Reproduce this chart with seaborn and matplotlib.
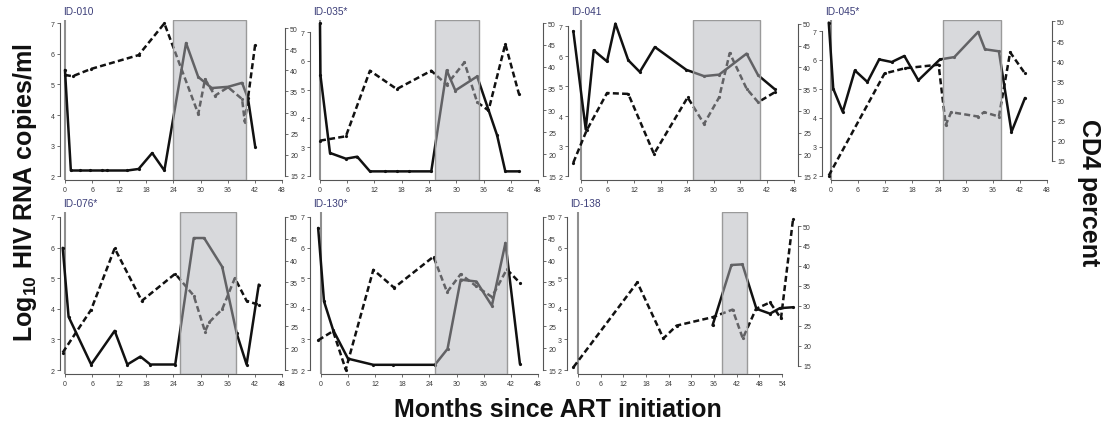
import numpy as np
import pandas as pd
import matplotlib
matplotlib.use("Agg")
import matplotlib.pyplot as plt
import seaborn as sns

sns.set_theme(style="ticks")
plt.rcParams['font.family'] = ['Liberation Sans', 'DejaVu Sans']
plt.rcParams['mathtext.fontset'] = 'custom'
plt.rcParams['mathtext.rm'] = 'Liberation Sans:bold'
plt.rcParams['mathtext.bf'] = 'Liberation Sans:bold'

# ---------------- data ----------------
ids = ["ID-010", "ID-035*", "ID-041", "ID-045*", "ID-076*", "ID-130*", "ID-138"]

rna_m_010 = [0, 1.3, 3.4, 5.6, 8.3, 9.2, 13.8, 16.3, 19.3, 22.0, 26.8, 29.5, 32.5, 36.1, 39.2, 40.5, 42.1]
rna_010 = [5.47, 2.19, 2.19, 2.19, 2.19, 2.19, 2.19, 2.24, 2.76, 2.19, 6.35, 5.24, 4.88, 4.92, 5.05, 4.55, 2.97]
cd4_m_010 = [0, 1.7, 5.7, 16.3, 22.0, 29.5, 31.0, 33.2, 36.1, 39.2, 39.8, 42.1]
cd4_010 = [38.9, 38.6, 40.3, 43.6, 51.1, 29.7, 37.9, 34.0, 36.0, 33.2, 27.8, 46.1]
shade_010 = [24.0, 40.0]

rna_m_035 = [0, 0.1, 2.2, 5.7, 8.2, 11.0, 14.3, 16.9, 19.7, 24.5, 27.9, 29.8, 34.6, 39.0, 40.8, 43.8]
rna_035 = [7.3, 5.5, 2.8, 2.6, 2.67, 2.16, 2.16, 2.16, 2.16, 2.16, 5.67, 4.97, 5.46, 3.41, 2.16, 2.16]
cd4_m_035 = [0, 5.7, 11.0, 16.9, 24.5, 27.9, 31.8, 34.6, 37.1, 40.8, 43.8]
cd4_035 = [23.1, 24.1, 39.1, 34.9, 39.1, 35.9, 41.0, 31.9, 30.0, 45.2, 33.8]
shade_035 = [25.3, 35.0]

rna_m_041 = [-1.7, 1.1, 2.9, 5.9, 7.8, 10.7, 13.3, 16.7, 23.8, 27.8, 31.2, 37.4, 40.0, 43.8]
rna_041 = [6.83, 3.56, 6.19, 5.82, 7.08, 5.86, 5.47, 6.3, 5.54, 5.33, 5.38, 6.08, 5.36, 4.89]
cd4_m_041 = [-1.7, 1.3, 5.9, 10.7, 16.5, 24.1, 27.8, 31.2, 33.6, 37.4, 40.0, 43.8]
cd4_041 = [18.1, 25.5, 34.1, 33.9, 20.1, 33.1, 27.0, 33.1, 43.3, 35.1, 32.0, 34.3]
shade_041 = [25.2, 40.4]

rna_m_045 = [-0.5, 0.5, 2.6, 5.3, 8.1, 10.7, 13.5, 16.3, 19.4, 24.2, 27.4, 32.7, 34.2, 37.3, 40.1, 43.1]
rna_045 = [7.29, 5.01, 4.21, 5.64, 5.24, 6.02, 5.93, 6.14, 5.3, 6.02, 6.1, 6.97, 6.37, 6.3, 3.52, 4.69]
cd4_m_045 = [-0.5, 11.9, 16.4, 23.9, 25.5, 26.7, 32.7, 34.0, 37.3, 39.8, 43.1]
cd4_045 = [11.3, 36.9, 38.2, 39.1, 24.0, 27.2, 26.1, 27.2, 26.1, 42.2, 36.9]
shade_045 = [24.8, 37.8]

rna_m_076 = [-0.5, 0.8, 5.8, 11.0, 13.8, 16.7, 18.9, 24.4, 28.5, 30.8, 34.8, 38.0, 40.2, 42.9]
rna_076 = [5.99, 3.74, 2.18, 3.28, 2.18, 2.44, 2.18, 2.18, 6.31, 6.31, 5.37, 3.2, 2.18, 4.79]
cd4_m_076 = [-0.5, 5.8, 11.0, 17.0, 24.4, 28.5, 31.0, 31.9, 34.8, 37.6, 40.2, 42.9]
cd4_076 = [19.0, 28.8, 42.8, 30.8, 37.0, 32.0, 23.8, 25.9, 28.9, 36.0, 30.8, 29.9]
shade_076 = [25.5, 37.9]

rna_m_130 = [-0.6, 0.7, 2.7, 6.0, 11.6, 16.0, 25.2, 28.0, 30.9, 34.4, 37.8, 40.8, 44.0]
rna_130 = [6.64, 4.24, 3.31, 2.37, 2.17, 2.17, 2.17, 2.69, 4.95, 4.89, 4.1, 6.15, 2.2]
cd4_m_130 = [-0.6, 2.7, 5.5, 11.6, 16.2, 24.9, 27.9, 30.9, 34.4, 37.8, 41.1, 44.1]
cd4_130 = [21.8, 23.9, 15.1, 37.9, 33.8, 40.9, 32.8, 36.9, 34.1, 31.7, 38.0, 34.8]
shade_130 = [25.3, 41.2]

rna_m_138 = [35.6, 40.6, 43.5, 47.2, 50.8, 53.4, 56.9]
rna_138 = [3.46, 5.43, 5.45, 4.0, 3.84, 4.02, 4.05]
cd4_m_138 = [-1.2, 15.7, 22.6, 26.1, 35.6, 40.9, 43.6, 47.1, 50.8, 53.7, 56.9]
cd4_138 = [14.7, 35.9, 21.9, 25.1, 27.2, 29.1, 21.9, 29.3, 30.9, 26.9, 51.8]
shade_138 = [38.1, 44.7]

rna_months = [rna_m_010, rna_m_035, rna_m_041, rna_m_045, rna_m_076, rna_m_130, rna_m_138]
rna_vals = [rna_010, rna_035, rna_041, rna_045, rna_076, rna_130, rna_138]
cd4_months = [cd4_m_010, cd4_m_035, cd4_m_041, cd4_m_045, cd4_m_076, cd4_m_130, cd4_m_138]
cd4_vals = [cd4_010, cd4_035, cd4_041, cd4_045, cd4_076, cd4_130, cd4_138]
shades = [shade_010, shade_035, shade_041, shade_045, shade_076, shade_130, shade_138]

x_ticks_std = [0, 6, 12, 18, 24, 30, 36, 42, 48]
x_ticks_138 = [0, 6, 12, 18, 24, 30, 36, 42, 48, 54]
rna_ticks = [2, 3, 4, 5, 6, 7]
cd4_ticks = [15, 20, 25, 30, 35, 40, 45, 50]

# ---------------- layout (pixels) ----------------
W, H = 1111, 427
boxes = [(60, 285, 21, 181), (310, 543, 21, 181), (568, 798, 21, 181), (822, 1052, 21, 181),
         (60, 285, 213, 375), (310, 543, 213, 375), (567, 798, 213, 375)]
xlims = [(-1.1, 48.7), (-2.2, 49.1), (-2.9, 49.0), (-2.0, 49.1),
         (-1.1, 48.7), (-2.4, 49.1), (-2.9, 58.2)]
rna_lims = [(1.88, 7.1), (1.86, 7.42), (1.87, 7.2), (1.86, 7.38),
            (1.87, 7.16), (1.87, 7.16), (1.87, 7.16)]
cd4_lims = [(14.05, 51.9), (14.1, 50.7), (14.1, 50.9), (10.2, 50.3),
            (14.1, 51.1), (14.1, 51.1), (13.0, 53.5)]

fig = plt.figure(figsize=(W / 100, H / 100), dpi=100)
fig.patch.set_facecolor("white")

spine_col = "#555555"
tick_col = "#3a3a3a"
line_col = "#111111"

for i in range(7):
    l, r, t, b = boxes[i]
    ax = fig.add_axes([l / W, 1 - b / H, (r - l) / W, (b - t) / H])
    ax.set_facecolor("none")
    ax2 = ax.twinx()

    xt = x_ticks_138 if i == 6 else x_ticks_std
    df_r = pd.DataFrame({"month": rna_months[i], "rna": rna_vals[i]})
    df_c = pd.DataFrame({"month": cd4_months[i], "cd4": cd4_vals[i]})

    ax.axvline(0, color="#8f8f8f", lw=1.5, zorder=1)
    sns.lineplot(data=df_r, x="month", y="rna", ax=ax, color=line_col, lw=1.8,
                 estimator=None, sort=False, marker="o", markersize=2.3,
                 markeredgewidth=0, zorder=3)
    sns.lineplot(data=df_c, x="month", y="cd4", ax=ax2, color=line_col, lw=1.8,
                 estimator=None, sort=False, marker="o", markersize=2.3,
                 markeredgewidth=0, linestyle=(0, (2.4, 1.3)), zorder=3)

    ax.set_xlim(*xlims[i])
    ax.set_ylim(*rna_lims[i])
    ax2.set_ylim(*cd4_lims[i])

    s0, s1 = shades[i]
    ax2.axvspan(s0, s1, facecolor="#b3b4ba", alpha=0.5, edgecolor="none", zorder=10)
    ax2.axvspan(s0, s1, fill=False, edgecolor="#9a9a9a", lw=1.0, zorder=11)

    for a in (ax, ax2):
        a.set_xlabel("")
        a.set_ylabel("")
        a.spines["top"].set_visible(False)
    ax.spines["right"].set_visible(False)
    ax2.spines["left"].set_visible(False)
    ax2.spines["bottom"].set_visible(False)
    for sp in ("left", "bottom"):
        ax.spines[sp].set_color(spine_col)
        ax.spines[sp].set_linewidth(0.8)
    ax2.spines["right"].set_color(spine_col)
    ax2.spines["right"].set_linewidth(0.8)

    ax.set_xticks(xt)
    ax.set_xticklabels([str(v) for v in xt])
    ax.set_yticks(rna_ticks)
    ax.set_yticklabels([str(v) for v in rna_ticks])
    ax2.set_yticks(cd4_ticks)
    ax2.set_yticklabels([str(v) for v in cd4_ticks])
    ax.spines["bottom"].set_bounds(xt[0], xt[-1])
    ax.spines["left"].set_bounds(2, 7)
    ax2.spines["right"].set_bounds(15, 50)

    ax.tick_params(axis="x", length=2.5, width=0.6, pad=2, labelsize=5,
                   colors=spine_col, labelcolor=tick_col)
    ax.tick_params(axis="y", length=2.5, width=0.6, pad=1.2, labelsize=5,
                   colors=spine_col, labelcolor=tick_col)
    ax2.tick_params(axis="y", length=2.5, width=0.6, pad=1.2, labelsize=5,
                    colors=spine_col, labelcolor=tick_col)

    ax.text(0.012, 1.025, ids[i], transform=ax.transAxes, ha="left", va="bottom",
            fontsize=7.3, color="#3b3d78")

fig.text(25 / W, 1 - 193 / H, r"Log$_{10}$ HIV RNA copies/ml", rotation=90,
         ha="center", va="center", fontsize=18, fontweight="bold", color="#111111")
fig.text(1089 / W, 1 - 193 / H, "CD4 percent", rotation=270,
         ha="center", va="center", fontsize=18, fontweight="bold", color="#111111")
fig.text(558 / W, 1 - 410 / H, "Months since ART initiation",
         ha="center", va="center", fontsize=18, fontweight="bold", color="#111111")

fig.savefig("out.png", dpi=100, facecolor="white")
